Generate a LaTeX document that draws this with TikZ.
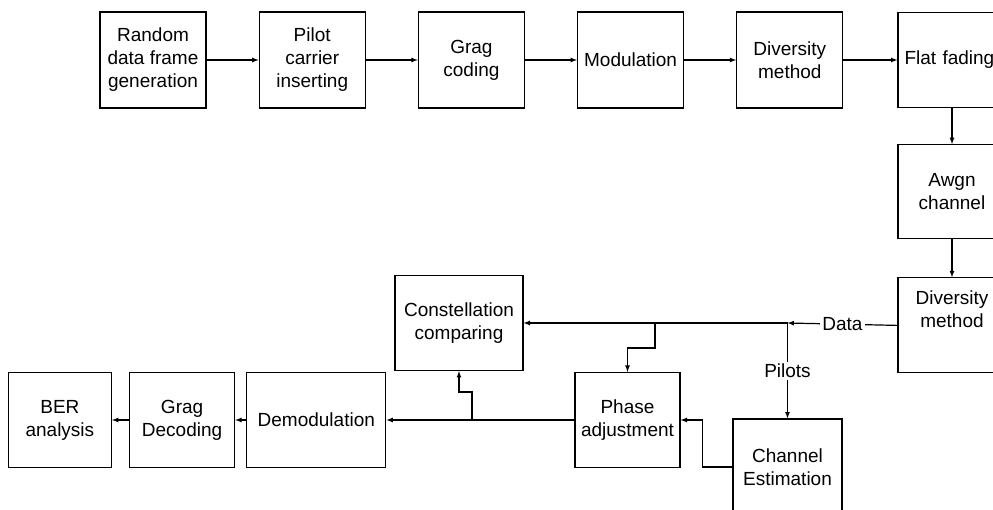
\documentclass[tikz,border=0pt]{standalone}
\usepackage{fontspec}
\setmainfont{Liberation Sans}
\usepackage{tikz}
\usetikzlibrary{arrows, positioning, calc}

\begin{document}
\begin{tikzpicture}[x=1pt, y=-1pt, line width=1.2pt, >=latex,
  every node/.style={font=\fontsize{19}{23}\selectfont, align=center},
  blk/.style={rectangle, draw, inner sep=2pt, minimum width=106pt, minimum height=96pt},
  side/.style={blk, minimum width=108pt, minimum height=95pt},
  lbl/.style={fill=white, inner sep=2pt}]
\useasboundingbox (0,0) rectangle (993,510);

% transmitter chain
\node (rand) [blk] at (153,60) {Random\\data frame\\generation};
\node (pilot) [blk, right=52pt of rand] {Pilot\\carrier\\inserting};
\node (gcod) [blk, right=52pt of pilot] {Grag\\coding};
\node (modul) [blk, right=52pt of gcod] {Modulation};
\node (divm) [blk, right=52pt of modul] {Diversity\\method};
\node (flat) [side, right=54pt of divm, inner xsep=6.5pt, text width=95pt, align=left] {Flat fading};
\node (awgn) [side, below=36pt of flat, minimum height=94pt] {Awgn\\channel};
\node (div2) [side, below=38pt of awgn] {Diversity\\method\\[9pt]~};

% receiver
\node (const) [blk, minimum width=128pt, minimum height=95pt] at (459,323) {Constellation\\comparing};
\node (phase) [blk, minimum width=105pt, minimum height=95pt] at (627.5,420) {Phase\\adjustment};
\node (chest) [blk, minimum width=109pt] at (787.5,467) {Channel\\Estimation};
\node (demod) [blk, minimum width=139pt, minimum height=95pt, left=188pt of phase] {Demodulation};
\node (gdec) [blk, minimum width=105pt, minimum height=95pt, left=11pt of demod] {Grag\\Decoding};
\node (ber) [blk, minimum width=103pt, minimum height=95pt, left=17pt of gdec] {BER\\analysis};

\coordinate (dtap) at (chest.north |- const.east);
\coordinate (ptap) at (655,323);
\coordinate (ctap) at (472,420);

\draw[->] (rand) -- (pilot);
\draw[->] (pilot) -- (gcod);
\draw[->] (gcod) -- (modul);
\draw[->] (modul) -- (divm);
\draw[->] (divm) -- (flat);
\draw[->] (flat) -- (awgn);
\draw[->] (awgn) -- (div2);
\draw[->] (div2.west) -- node[lbl] {Data} (dtap);
\draw[->] (dtap) -- (const.east);
\draw[->] (dtap) -- node[lbl] {Pilots} (chest.north);
\draw[->] (ptap) -- ++(0,25) -| (phase.north);
\draw[->] (chest.west) -- ++(-30,0) |- (phase.east);
\draw[->] (phase.west) -- (demod.east);
\draw[->] (ctap) -- ++(0,-28) -| (const.south);
\draw[->] (demod) -- (gdec);
\draw[->] (gdec) -- (ber);
\end{tikzpicture}
\end{document}
